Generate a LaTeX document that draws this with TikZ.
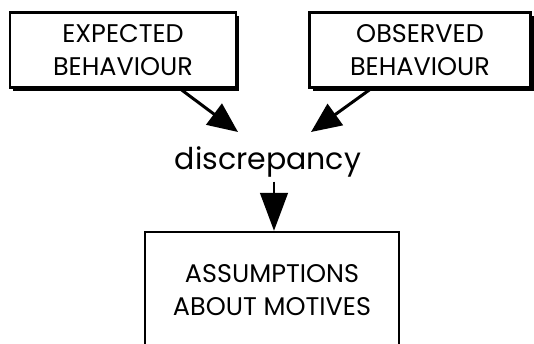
\documentclass[tikz,border=0pt]{standalone}
\usepackage{fontspec}
\setmainfont{Poppins}
\usetikzlibrary{arrows.meta}
\usetikzlibrary{shadows}

\begin{document}
\begin{tikzpicture}[x=1pt, y=-1pt,
framed/.style={draw, line width=2.5pt, fill=white, align=center, inner sep=0, font=\fontsize{25.5}{33}\selectfont},
shadowed/.style={drop shadow={shadow xshift=3pt, shadow yshift=-3pt, fill=black, opacity=1}},
bigarrow/.style={line width=3pt, -{Triangle[length=30pt, width=26pt]}},
downarrow/.style={line width=1.5pt, -{Triangle[length=38pt, width=28pt]}},
word/.style={inner sep=0, font=\fontsize{30}{36}\selectfont}]

% SIZE OF THE PICTURE
\useasboundingbox (0,0) rectangle (534,343);
%%%%%%%%% BEHAVIOUR BOXES %%%%%%%%%
\node[framed, shadowed, minimum width=226, minimum height=75] (expected) at (123,50) {EXPECTED\\BEHAVIOUR};
\node[framed, shadowed, minimum width=221, minimum height=75] (observed) at (420,50) {OBSERVED\\BEHAVIOUR};
%%%%%%%%% MIDDLE WORD %%%%%%%%%
\node[word] (discrepancy) at (268,162) {discrepancy};
\coordinate (dleft) at (238,132);
\coordinate (dright) at (311,132);
%%%%%%%%% RESULT BOX %%%%%%%%%
\node[framed, minimum width=254, minimum height=116] (assumptions) at (272,290) {ASSUMPTIONS\\ABOUT MOTIVES};
% ARROWS
\draw[bigarrow] ([xshift=57]expected.south) -- (dleft);
\draw[bigarrow] ([xshift=-49]observed.south) -- (dright);
\draw[downarrow] ([xshift=6, yshift=-4]discrepancy.south) -- ([xshift=2]assumptions.north);
\end{tikzpicture}
\end{document}
